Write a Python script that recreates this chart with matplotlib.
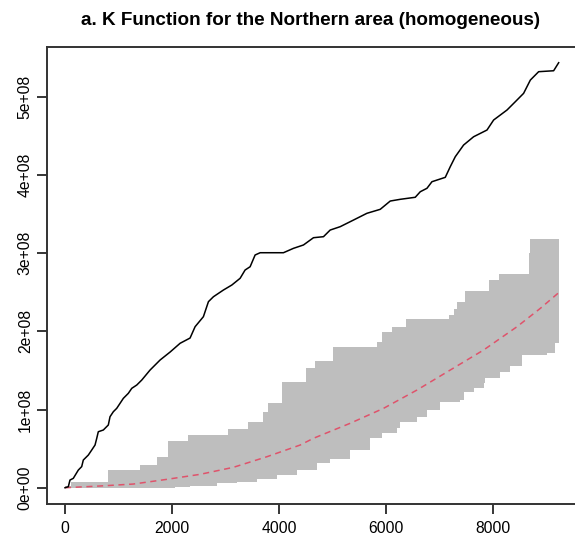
import numpy as np
import matplotlib.pyplot as plt

plt.rcParams['font.family'] = ['Liberation Sans', 'DejaVu Sans']

# observed K(r), in units of 1e8
r_obs = [0, 62, 93, 155, 249, 312, 342, 436, 499, 561, 593, 622, 716, 809, 841,
         903, 966, 1028, 1090, 1183, 1247, 1340, 1434, 1589, 1776, 1963, 2150,
         2336, 2430, 2585, 2679, 2772, 2959, 3116, 3271, 3364, 3458, 3551, 3645,
         4080, 4267, 4454, 4641, 4828, 4953, 5140, 5389, 5639, 5888, 6075, 6262,
         6542, 6636, 6761, 6854, 7103, 7196, 7290, 7445, 7632, 7882, 8006, 8131,
         8256, 8411, 8566, 8692, 8847, 9127, 9221]
k_obs = [0, 0.013, 0.098, 0.12, 0.226, 0.27, 0.354, 0.418, 0.482, 0.546, 0.632,
         0.716, 0.738, 0.802, 0.908, 0.972, 1.015, 1.079, 1.143, 1.207, 1.271,
         1.313, 1.377, 1.505, 1.633, 1.735, 1.847, 1.914, 2.059, 2.187, 2.379,
         2.442, 2.528, 2.592, 2.678, 2.784, 2.826, 2.976, 3.005, 3.005, 3.061,
         3.104, 3.197, 3.210, 3.295, 3.338, 3.423, 3.509, 3.560, 3.666, 3.688,
         3.714, 3.785, 3.829, 3.913, 3.969, 4.105, 4.233, 4.382, 4.488, 4.574,
         4.702, 4.766, 4.830, 4.936, 5.043, 5.213, 5.320, 5.332, 5.435]

# theoretical K under CSR
r_theo = [0, 654, 1277, 1901, 2523, 3146, 3770, 4393, 4641, 5327, 5950, 6574,
          7196, 7819, 8443, 8879, 9221]
k_theo = [0, 0.022, 0.047, 0.107, 0.171, 0.261, 0.396, 0.546, 0.632, 0.824,
          1.015, 1.249, 1.505, 1.761, 2.059, 2.294, 2.494]

# simulation envelope (step functions)
r_hi = [0, 120, 809, 1402, 1714, 1931, 2305, 3052, 3426, 3707, 3800, 4050, 4505,
        4673, 5015, 5826, 5920, 6107, 6374, 7164, 7258, 7321, 7477, 7912, 8099,
        8660, 8692]
k_hi = [0.02, 0.077, 0.226, 0.290, 0.389, 0.601, 0.674, 0.747, 0.844, 0.972,
        1.087, 1.355, 1.527, 1.624, 1.803, 1.867, 1.987, 2.051, 2.153, 2.208,
        2.281, 2.379, 2.515, 2.656, 2.733, 2.997, 3.180]
r_lo = [0, 2056, 2336, 2836, 3209, 3583, 3957, 4331, 4705, 4953, 5327, 5701,
        5920, 6200, 6262, 6574, 6761, 7009, 7383, 7445, 7632, 7819, 7850, 8131,
        8318, 8536, 9003, 9159]
k_lo = [0, 0.005, 0.022, 0.056, 0.077, 0.107, 0.162, 0.226, 0.312, 0.363, 0.482,
        0.632, 0.696, 0.760, 0.844, 0.908, 0.994, 1.100, 1.122, 1.228, 1.271,
        1.335, 1.399, 1.483, 1.556, 1.697, 1.719, 1.847]
r_max = 9221

x_ticks = [0, 2000, 4000, 6000, 8000]
y_ticks = [0, 1, 2, 3, 4, 5]
y_labels = ['0e+00', '1e+08', '2e+08', '3e+08', '4e+08', '5e+08']


def steps(r, v, end):
    xs = np.repeat(np.append(r, end), 2)[1:-1]
    ys = np.repeat(v, 2)
    return xs, ys


fig = plt.figure(figsize=(5.75, 5.45), dpi=100)
# box runs a little past the right edge of the image
ax = fig.add_axes([0.0812, 0.0752, 0.935, 0.8386])

hx, hy = steps(r_hi, k_hi, r_max)
lx, ly = steps(r_lo, k_lo, r_max)
ax.fill(np.concatenate([hx, lx[::-1]]), np.concatenate([hy, ly[::-1]]),
        color='#BEBEBE', lw=0)
ax.plot(r_theo, k_theo, color='#DF536B', lw=1.1, ls=(0, (4, 3)))
ax.plot(r_obs, k_obs, color='black', lw=1.1)

ax.set_xlim(-342, 9700)
ax.set_ylim(-0.2084, 5.636)
ax.set_xticks(x_ticks)
ax.set_yticks(y_ticks)
ax.set_yticklabels(y_labels, rotation=90, va='center')
ax.tick_params(direction='out', length=7, width=1.1, labelsize=11.3,
               colors='black')
ax.tick_params(axis='x', pad=5)
ax.tick_params(axis='y', pad=3)
for s in ax.spines.values():
    s.set_color('#333333')
    s.set_linewidth(1.4)
ax.spines['right'].set_visible(False)

fig.text(0.54, 0.963, 'a. K Function for the Northern area (homogeneous)',
         ha='center', va='center', fontsize=13.6, fontweight='bold')

fig.savefig('out.png', dpi=100)
